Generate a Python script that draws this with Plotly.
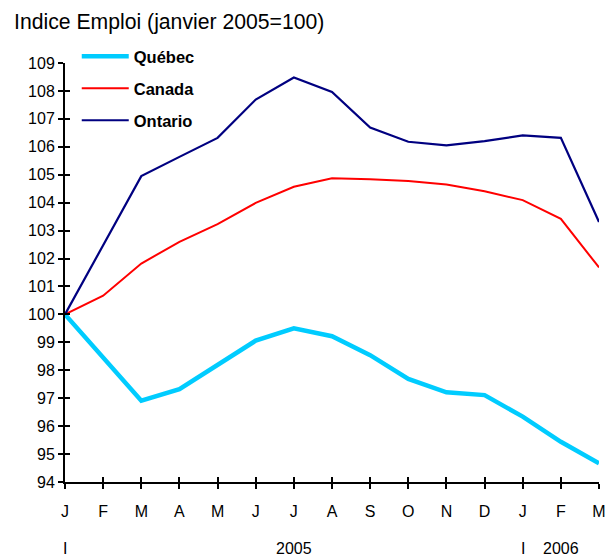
import plotly.graph_objects as go

months = ["J", "F", "M", "A", "M", "J", "J", "A", "S", "O", "N", "D", "J", "F", "M"]
idx = list(range(len(months)))

quebec = [100.0, 98.48, 96.91, 97.32, 98.19, 99.06, 99.50, 99.22, 98.54, 97.69, 97.21, 97.11, 96.34, 95.44, 94.67]
canada = [100.0, 100.67, 101.82, 102.60, 103.23, 103.99, 104.57, 104.87, 104.84, 104.78, 104.65, 104.41, 104.09, 103.42, 101.68]
ontario = [100.0, 102.48, 104.95, 105.64, 106.32, 107.69, 108.48, 107.96, 106.69, 106.18, 106.05, 106.20, 106.41, 106.32, 103.31]

y_ticks = list(range(94, 110))
year_marks = [(0, "I"), (6, "2005"), (12, "I"), (13, "2006")]

FONT = "Liberation Sans, Arial, sans-serif"

fig = go.Figure()
fig.add_trace(go.Scatter(x=idx, y=quebec, mode="lines", name="<b>Québec</b>",
                         line=dict(color="#00CCFF", width=4.5), legendgroup="q"))
fig.add_trace(go.Scatter(x=idx, y=canada, mode="lines", name="<b>Canada</b>",
                         line=dict(color="#FF0000", width=2), legendgroup="c"))
fig.add_trace(go.Scatter(x=idx, y=ontario, mode="lines", name="<b>Ontario</b>",
                         line=dict(color="#000080", width=2.2), legendgroup="o"))
fig.add_trace(go.Scatter(x=[], y=[], xaxis="x2", yaxis="y2", showlegend=False))

for xv, txt in year_marks:
    fig.add_annotation(x=xv, y=0, xref="x", yref="paper", yshift=-66, text=txt,
                       showarrow=False, font=dict(size=16, color="black", family=FONT),
                       xanchor="center", yanchor="middle")

axis_common = dict(showline=True, linecolor="black", linewidth=2, tickcolor="black",
                   tickwidth=2, ticklen=5, showgrid=False, zeroline=False, automargin=False)

fig.update_layout(
    width=608, height=548,
    margin=dict(l=56.7, r=16.7, t=54.7, b=74, autoexpand=False),
    paper_bgcolor="white", plot_bgcolor="white",
    font=dict(family=FONT, size=16, color="black"),
    title=dict(text="Indice Emploi (janvier 2005=100)", x=0, xref="container", xanchor="left",
               y=1, yref="container", yanchor="top", pad=dict(t=6, l=6),
               font=dict(size=21.2, family=FONT, color="black")),
    xaxis=dict(range=[0, 14], tickmode="array", tickvals=idx, ticktext=months,
               ticks="outside", ticklabelstandoff=9, **axis_common),
    yaxis=dict(range=[94, 109], tickmode="array", tickvals=y_ticks,
               ticks="outside", ticklabelstandoff=0, **axis_common),
    xaxis2=dict(range=[0, 14], overlaying="x", anchor="y2", tickmode="array", tickvals=idx,
                ticks="inside", showticklabels=False, **axis_common),
    yaxis2=dict(range=[94, 109], overlaying="y", anchor="x2", tickmode="array", tickvals=y_ticks,
                ticks="inside", showticklabels=False, **axis_common),
    legend=dict(x=0.022, y=1.057, xanchor="left", yanchor="top", bgcolor="rgba(0,0,0,0)",
                font=dict(size=16.5, family=FONT, color="black"),
                tracegroupgap=7.5, itemwidth=47),
    showlegend=True,
)

fig.write_html("out.html")
